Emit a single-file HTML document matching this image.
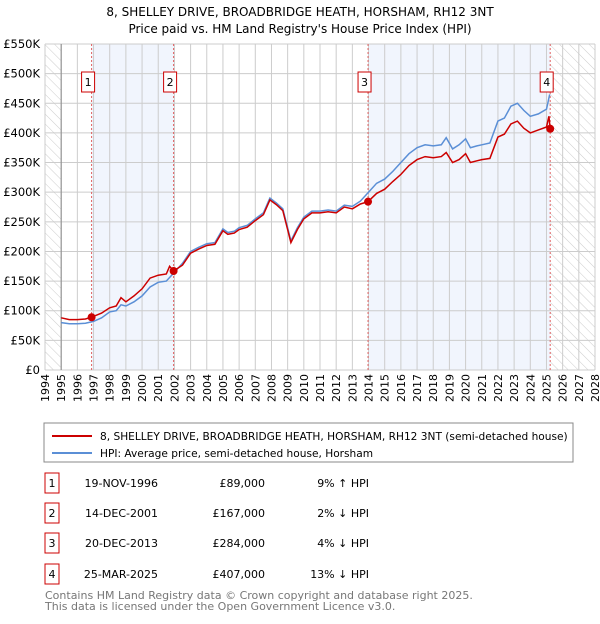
<!DOCTYPE html>
<html><head><meta charset="utf-8"><style>
body{margin:0;background:#fff;font-family:"DejaVu Sans","Liberation Sans",sans-serif;}
svg text{font-family:"DejaVu Sans","Liberation Sans",sans-serif;}
</style></head><body>
<svg id="chart" width="600" height="620" xmlns="http://www.w3.org/2000/svg">
<defs><pattern id="hatch" width="7" height="7" patternUnits="userSpaceOnUse" patternTransform="rotate(-45)"><line x1="0" y1="0" x2="0" y2="7" stroke="#ccc" stroke-width="1"/></pattern></defs>
<text x="300" y="16" text-anchor="middle" font-size="12">8, SHELLEY DRIVE, BROADBRIDGE HEATH, HORSHAM, RH12 3NT</text>
<text x="300" y="33" text-anchor="middle" font-size="12">Price paid vs. HM Land Registry's House Price Index (HPI)</text>
<g id="plot"></g>
<rect x="44" y="423" width="529" height="39" fill="#fff" stroke="#888"/>
<line x1="52" y1="436" x2="92" y2="436" stroke="#cc0000" stroke-width="2"/>
<text x="100" y="440" font-size="10.6">8, SHELLEY DRIVE, BROADBRIDGE HEATH, HORSHAM, RH12 3NT (semi-detached house)</text>
<line x1="52" y1="453" x2="92" y2="453" stroke="#5b8fd6" stroke-width="2"/>
<text x="100" y="457" font-size="10.6">HPI: Average price, semi-detached house, Horsham</text>
<g id="table" font-size="11"></g>
<text x="45" y="599" font-size="11" fill="#777">Contains HM Land Registry data © Crown copyright and database right 2025.</text>
<text x="45" y="610" font-size="11" fill="#777">This data is licensed under the Open Government Licence v3.0.</text>
</svg>
<script>
const yearTicks=[1994,1995,1996,1997,1998,1999,2000,2001,2002,2003,2004,2005,2006,2007,2008,2009,2010,2011,2012,2013,2014,2015,2016,2017,2018,2019,2020,2021,2022,2023,2024,2025,2026,2027,2028];
const priceTicks=[0,50000,100000,150000,200000,250000,300000,350000,400000,450000,500000,550000];
const priceTickLabels=["£0","£50K","£100K","£150K","£200K","£250K","£300K","£350K","£400K","£450K","£500K","£550K"];
const hpiT=[1995,1995.5,1996,1996.5,1997,1997.5,1998,1998.4,1998.7,1999,1999.5,2000,2000.5,2001,2001.5,2002,2002.5,2003,2003.5,2004,2004.5,2005,2005.3,2005.7,2006,2006.5,2007,2007.5,2007.9,2008.3,2008.7,2009,2009.2,2009.6,2010,2010.5,2011,2011.5,2012,2012.5,2013,2013.5,2014,2014.5,2015,2015.5,2016,2016.5,2017,2017.5,2018,2018.5,2018.8,2019.2,2019.6,2020,2020.3,2020.7,2021,2021.5,2022,2022.4,2022.8,2023.2,2023.6,2024,2024.5,2025,2025.2];
const hpiV=[80000,78000,78000,79000,82000,88000,98000,100000,110000,108000,115000,125000,140000,148000,150000,165000,180000,200000,207000,213000,215000,238000,232000,234000,240000,244000,255000,265000,290000,282000,272000,240000,218000,240000,258000,268000,268000,270000,268000,278000,276000,285000,300000,315000,322000,335000,350000,365000,375000,380000,378000,380000,392000,373000,380000,390000,375000,378000,380000,383000,420000,425000,445000,450000,438000,428000,432000,440000,465000];
const propT=[1995,1995.5,1996,1996.5,1996.88,1997.5,1998,1998.4,1998.7,1999,1999.5,2000,2000.5,2001,2001.5,2001.7,2001.95,2002.5,2003,2003.5,2004,2004.5,2005,2005.3,2005.7,2006,2006.5,2007,2007.5,2007.9,2008.3,2008.7,2009,2009.2,2009.6,2010,2010.5,2011,2011.5,2012,2012.5,2013,2013.5,2013.97,2014.5,2015,2015.5,2016,2016.5,2017,2017.5,2018,2018.5,2018.8,2019.2,2019.6,2020,2020.3,2020.7,2021,2021.5,2022,2022.4,2022.8,2023.2,2023.6,2024,2024.5,2025,2025.15,2025.23];
const propV=[88000,85000,85000,86000,89000,96000,105000,108000,122000,115000,125000,137000,155000,160000,162000,175000,167000,177000,197000,204000,210000,212000,235000,229000,231000,237000,241000,252000,262000,287000,279000,269000,237000,215000,237000,255000,265000,265000,267000,265000,275000,272000,280000,284000,298000,305000,318000,330000,345000,355000,360000,358000,360000,367000,350000,355000,365000,350000,353000,355000,357000,393000,398000,415000,420000,408000,400000,405000,410000,428000,407000];
const saleT=[1996.88,2001.95,2013.97,2025.23];
const saleV=[89000,167000,284000,407000];
const saleDates=["19-NOV-1996","14-DEC-2001","20-DEC-2013","25-MAR-2025"];
const salePrices=["£89,000","£167,000","£284,000","£407,000"];
const saleDiffs=["9% ↑ HPI","2% ↓ HPI","4% ↓ HPI","13% ↓ HPI"];
const X0=45,X1=595,Y0=370,Y1=44;
const xs=t=>X0+(t-1994)/(2028-1994)*(X1-X0);
const ys=v=>Y0-v/550000*(Y0-Y1);
const NS="http://www.w3.org/2000/svg";
const plot=document.getElementById('plot');
function mk(tag,attrs,parent){const e=document.createElementNS(NS,tag);for(const k in attrs)e.setAttribute(k,attrs[k]);(parent||plot).appendChild(e);return e;}
let e;
e=mk('rect',{x:X0,y:Y1,width:X1-X0,height:Y0-Y1,fill:'#fff'});


e=mk('rect',{x:xs(1994),y:Y1,width:xs(1995)-xs(1994),height:Y0-Y1,fill:'url(#hatch)'});


e=mk('rect',{x:xs(2025.23),y:Y1,width:X1-xs(2025.23),height:Y0-Y1,fill:'url(#hatch)'});


[[0,1],[2,3]].forEach(p=>{e=mk('rect',{x:xs(saleT[p[0]]),y:Y1,width:xs(saleT[p[1]])-xs(saleT[p[0]]),height:Y0-Y1,fill:'#eef3fc',opacity:0.8});

});
yearTicks.forEach(y=>{e=mk('line',{x1:xs(y),x2:xs(y),y1:Y1,y2:Y0,stroke:'#ccc'});


e=mk('text',{x:0,y:0,'font-size':11,'text-anchor':'end',transform:`translate(${xs(y)+4},${Y0+4}) rotate(-90)`});e.textContent=y;

});
priceTicks.forEach((v,i)=>{e=mk('line',{x1:X0,x2:X1,y1:ys(v),y2:ys(v),stroke:'#ccc'});


e=mk('text',{x:40,y:ys(v)+4,'font-size':11.5,'text-anchor':'end'});e.textContent=priceTickLabels[i];

});
e=mk('line',{x1:xs(1995),x2:xs(1995),y1:Y1,y2:Y0,stroke:'#888'});


saleT.forEach((t,i)=>{e=mk('line',{x1:xs(t),x2:xs(t),y1:Y1,y2:Y0,stroke:'#e06060','stroke-dasharray':'2,2'});


e=mk('rect',{x:xs(t)-10,y:72,width:13,height:20,fill:'#fff',stroke:'#cc0000'});


e=mk('text',{x:xs(t)-3.5,y:86,'font-size':11,'text-anchor':'middle'});e.textContent=i+1;

});
const pathOf=(T,V)=>T.map((t,i)=>(i?'L':'M')+xs(t).toFixed(1)+','+ys(V[i]).toFixed(1)).join('');
e=mk('path',{d:pathOf(hpiT,hpiV),fill:'none',stroke:'#5b8fd6','stroke-width':1.5});


e=mk('path',{d:pathOf(propT,propV),fill:'none',stroke:'#cc0000','stroke-width':1.5});


saleT.forEach((t,i)=>{e=mk('circle',{cx:xs(t),cy:ys(saleV[i]),r:4,fill:'#cc0000'});

});
const tb=document.getElementById('table');
const rowY=[483,513,543,574];
saleT.forEach((t,i)=>{const y=rowY[i];
e=mk('rect',{x:45,y:y-10,width:14,height:20,fill:'#fff',stroke:'#cc0000'},tb);


e=mk('text',{x:52,y:y+4,'text-anchor':'middle'},tb);e.textContent=i+1;


e=mk('text',{x:158,y:y+4,'text-anchor':'end'},tb);e.textContent=saleDates[i];


e=mk('text',{x:265,y:y+4,'text-anchor':'end'},tb);e.textContent=salePrices[i];


e=mk('text',{x:369,y:y+4,'text-anchor':'end'},tb);e.textContent=saleDiffs[i];

});
</script>
</body></html>
